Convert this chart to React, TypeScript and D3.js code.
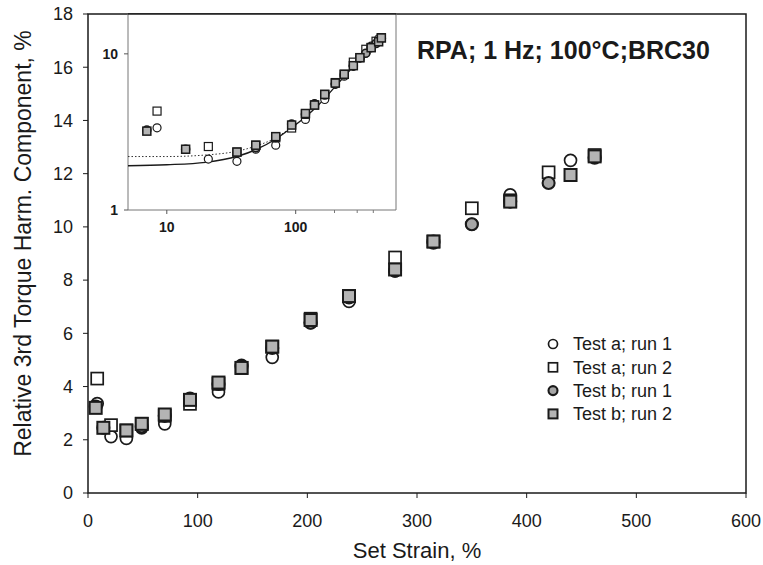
import React from 'react';
import * as d3 from 'd3';

const xTicks = [0, 100, 200, 300, 400, 500, 600];
const yTicks = [0, 2, 4, 6, 8, 10, 12, 14, 16, 18];
const insetXTicks = [10, 100];
const insetXMinor = [200, 300, 400];
const insetYTicks = [1, 10];

const seriesNames = ['Test a; run 1', 'Test a; run 2', 'Test b; run 1', 'Test b; run 2'];

const strainA1 = [8.4, 21, 35, 49, 70, 93, 119, 140, 168, 203, 238, 280, 315, 350, 385, 440];
const valueA1 = [3.36, 2.12, 2.05, 2.45, 2.6, 3.45, 3.8, 4.8, 5.1, 6.4, 7.2, 8.35, 9.4, 10.1, 11.2, 12.5];
const strainA2 = [8.4, 21, 35, 49, 70, 93, 119, 140, 168, 203, 238, 280, 315, 350, 385, 420, 462];
const valueA2 = [4.3, 2.55, 2.35, 2.6, 2.9, 3.35, 4.1, 4.7, 5.5, 6.55, 7.4, 8.85, 9.45, 10.7, 11.0, 12.05, 12.7];
const strainB1 = [7, 14, 49, 70, 93, 119, 140, 168, 203, 238, 280, 315, 350, 385, 420, 462];
const valueB1 = [3.25, 2.45, 2.5, 2.9, 3.55, 4.1, 4.75, 5.45, 6.4, 7.35, 8.35, 9.45, 10.1, 10.95, 11.65, 12.6];
const strainB2 = [7, 14, 35, 49, 70, 93, 119, 140, 168, 203, 238, 280, 315, 385, 440, 462];
const valueB2 = [3.2, 2.45, 2.35, 2.6, 2.95, 3.5, 4.15, 4.7, 5.5, 6.5, 7.4, 8.4, 9.45, 10.95, 11.95, 12.65];

const fitSolidX = [5, 10, 20, 35, 50, 70, 93, 117, 150, 200, 280, 470];
const fitSolidY = [1.92, 1.95, 2.02, 2.2, 2.45, 2.85, 3.37, 3.9, 4.7, 6.1, 8.3, 12.9];
const fitDotX = [5, 10, 20, 35, 50, 70, 93];
const fitDotY = [2.2, 2.2, 2.25, 2.38, 2.58, 2.9, 3.4];

const FONT = '"Liberation Sans", Arial, Helvetica, sans-serif';
const INK = '#1a1a1a';

type Kind = 'oc' | 'os' | 'fc' | 'fs';
const kinds: Kind[] = ['oc', 'os', 'fc', 'fs'];

function Marker({ kind, x, y, s }: { kind: Kind; x: number; y: number; s: number }) {
  const filled = kind === 'fc' || kind === 'fs';
  const fill = kind === 'fc' ? '#a6a6a6' : kind === 'fs' ? '#b4b4b4' : '#ffffff';
  const sw = s > 8 ? 1.7 : 1.2;
  if (kind === 'oc' || kind === 'fc') {
    return <circle cx={x} cy={y} r={s / 2} fill={fill} stroke={INK} strokeWidth={filled ? sw + 0.4 : sw} />;
  }
  return <rect x={x - s / 2} y={y - s / 2} width={s} height={s} fill={fill} stroke={INK} strokeWidth={filled ? sw + 0.3 : sw} />;
}

export default function App() {
  const W = 763, H = 565;
  const x = d3.scaleLinear().domain([0, 600]).range([88, 746]);
  const y = d3.scaleLinear().domain([0, 18]).range([493, 14]);

  const ix = d3.scaleLog().domain([5, 600]).range([128, 396]);
  const iy = d3.scaleLog().domain([1, 18]).range([210, 14]);

  const series = [
    { xs: strainA1, ys: valueA1 },
    { xs: strainA2, ys: valueA2 },
    { xs: strainB1, ys: valueB1 },
    { xs: strainB2, ys: valueB2 },
  ];

  const line = d3.line<[number, number]>()
    .x(d => ix(d[0]))
    .y(d => iy(d[1]))
    .curve(d3.curveMonotoneX);
  const solidPath = line(fitSolidX.map((v, i) => [v, fitSolidY[i]] as [number, number])) || '';
  const dotPath = line(fitDotX.map((v, i) => [v, fitDotY[i]] as [number, number])) || '';

  const [x0, x1] = x.range();
  const [y0, y1] = y.range();

  return (
    <svg width={W} height={H} style={{ position: 'absolute', left: 0, top: 0, background: '#fff' }} fontFamily={FONT}>
      <rect x={0} y={0} width={W} height={H} fill="#fff" />

      {/* main axes frame */}
      <rect x={x0} y={y1} width={x1 - x0} height={y0 - y1} fill="none" stroke={INK} strokeWidth={1.5} />

      {/* x ticks */}
      {xTicks.map(t => (
        <g key={'xt' + t}>
          <line x1={x(t)} x2={x(t)} y1={y0} y2={y0 + 5} stroke={INK} strokeWidth={1} />
          <text x={x(t)} y={y0 + 34} textAnchor="middle" fontSize={18} fill={INK}>{t}</text>
        </g>
      ))}
      {/* y ticks */}
      {yTicks.map(t => (
        <g key={'yt' + t}>
          <line x1={x0 - 5} x2={x0} y1={y(t)} y2={y(t)} stroke={INK} strokeWidth={1} />
          <text x={x0 - 15} y={y(t)} dy="0.35em" textAnchor="end" fontSize={18} fill={INK}>{t}</text>
        </g>
      ))}

      <text x={(x0 + x1) / 2} y={558} textAnchor="middle" fontSize={22} fill={INK}>Set Strain, %</text>
      <text transform={`translate(31, ${(y0 + y1) / 2 - 10}) rotate(-90)`} textAnchor="middle" fontSize={23} fill={INK}>
        Relative 3rd Torque Harm. Component, %
      </text>

      <text x={417} y={59} fontSize={25} fontWeight="bold" fill={INK}>RPA; 1 Hz; 100°C;BRC30</text>

      {/* main data */}
      {series.map((s, si) => (
        <g key={'s' + si}>
          {s.xs.map((v, i) => (
            <Marker key={i} kind={kinds[si]} x={x(v)} y={y(s.ys[i])} s={12} />
          ))}
        </g>
      ))}

      {/* legend */}
      {seriesNames.map((n, i) => {
        const ly = 344 + i * 23.3;
        return (
          <g key={'lg' + i}>
            <Marker kind={kinds[i]} x={553} y={ly} s={9} />
            <text x={573} y={ly} dy="0.35em" fontSize={18} fill={INK}>{n}</text>
          </g>
        );
      })}

      {/* inset */}
      <rect x={128} y={14} width={396 - 128} height={210 - 14} fill="#fff" stroke="none" />
      <g>
        <line x1={128} x2={128} y1={14} y2={210} stroke="#777" strokeWidth={1} />
        <line x1={128} x2={396} y1={210} y2={210} stroke="#777" strokeWidth={1} />
        <line x1={396} x2={396} y1={14} y2={210} stroke="#777" strokeWidth={1} />
        <line x1={128} x2={396} y1={14} y2={14} stroke={INK} strokeWidth={1.5} />
        {insetXTicks.map(t => (
          <g key={'ixt' + t}>
            <line x1={ix(t)} x2={ix(t)} y1={210} y2={214} stroke="#555" />
            <text x={ix(t)} y={232} textAnchor="middle" fontSize={14} fontWeight="bold" fill={INK}>{t}</text>
          </g>
        ))}
        {insetXMinor.map(t => (
          <line key={'ixm' + t} x1={ix(t)} x2={ix(t)} y1={210} y2={213} stroke="#777" />
        ))}
        {insetYTicks.map(t => (
          <g key={'iyt' + t}>
            <line x1={124} x2={128} y1={iy(t)} y2={iy(t)} stroke="#555" />
            <text x={118} y={iy(t)} dy="0.35em" textAnchor="end" fontSize={14} fontWeight="bold" fill={INK}>{t}</text>
          </g>
        ))}
        <path d={dotPath} fill="none" stroke="#333" strokeWidth={1} strokeDasharray="1.5,2" />
        <path d={solidPath} fill="none" stroke={INK} strokeWidth={1.4} />
        {series.map((s, si) => (
          <g key={'is' + si}>
            {s.xs.map((v, i) => (
              <Marker key={i} kind={kinds[si]} x={ix(v)} y={iy(s.ys[i])} s={8} />
            ))}
          </g>
        ))}
      </g>
    </svg>
  );
}
